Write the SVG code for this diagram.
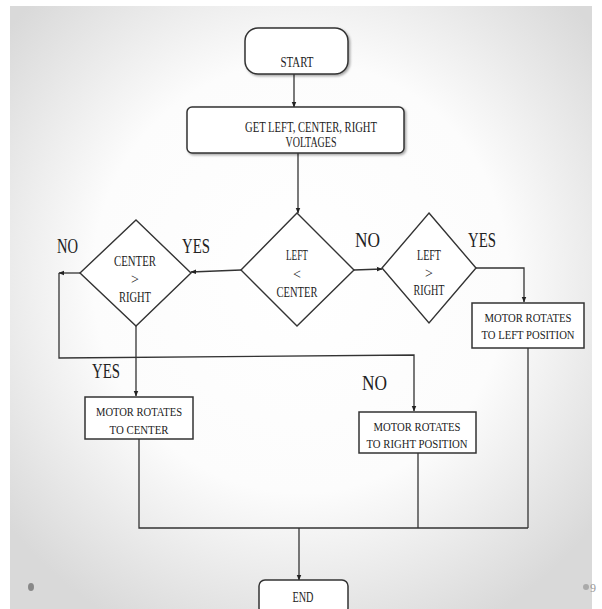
<svg xmlns="http://www.w3.org/2000/svg" width="602" height="609" viewBox="0 0 602 609">
  <defs>
    <radialGradient id="bg" cx="50%" cy="45%" r="65%">
      <stop offset="0" stop-color="#ffffff"/>
      <stop offset="0.55" stop-color="#fcfcfc"/>
      <stop offset="1" stop-color="#d9d9d9"/>
    </radialGradient>
    <marker id="arr" viewBox="0 0 10 10" refX="9" refY="5" markerWidth="6" markerHeight="6" orient="auto" markerUnits="userSpaceOnUse">
      <path d="M0,1 L10,5 L0,9 z" fill="#222"/>
    </marker>
    <filter id="sh" x="-10%" y="-10%" width="130%" height="140%">
      <feDropShadow dx="1.5" dy="1.5" stdDeviation="0.8" flood-color="#000" flood-opacity="0.35"/>
    </filter>
  </defs>
  <style>
    .box { fill: #ffffff; stroke: #333; stroke-width: 1.5; }
    .dia { fill: #ffffff; stroke: #333; stroke-width: 1.4; }
    .ln { fill: none; stroke: #333; stroke-width: 1.3; }
    .t { font-family: "Liberation Serif", "Times New Roman", serif; fill: #222; text-anchor: middle; }
    .s { font-size: 13px; }
    .d { font-size: 14px; }
    .lab { font-family: "Liberation Serif", "Times New Roman", serif; fill: #222; font-size: 21px; }
  </style>

  <rect x="0" y="0" width="602" height="609" fill="#ffffff"/>
  <rect x="10" y="6" width="582" height="603" fill="url(#bg)"/>

  <g id="connectors">
    <line class="ln" x1="294" y1="74" x2="294" y2="107" marker-end="url(#arr)"/>
    <line class="ln" x1="298" y1="153" x2="298" y2="213" marker-end="url(#arr)"/>
    <line class="ln" x1="241" y1="270" x2="191" y2="272" marker-end="url(#arr)"/>
    <line class="ln" x1="354" y1="270" x2="382" y2="269" marker-end="url(#arr)"/>
    <line class="ln" x1="80" y1="273" x2="59" y2="273" marker-end="url(#arr)"/>
    <polyline class="ln" points="59,273 59,358 414,355 414,411" marker-end="url(#arr)"/>
    <line class="ln" x1="136" y1="326" x2="136" y2="396" marker-end="url(#arr)"/>
    <polyline class="ln" points="476,268 524,268 524,302" marker-end="url(#arr)"/>
    <line class="ln" x1="528" y1="348" x2="528" y2="528"/>
    <polyline class="ln" points="139,439 139,528 528,528"/>
    <line class="ln" x1="418" y1="453" x2="418" y2="528"/>
    <line class="ln" x1="299" y1="528" x2="299" y2="580" marker-end="url(#arr)"/>
  </g>

  <g id="start">
    <rect class="box" x="245" y="28" width="103" height="46" rx="13" filter="url(#sh)"/>
    <text class="t" x="297" y="67" font-size="14" textLength="33" lengthAdjust="spacingAndGlyphs">START</text>
  </g>

  <g id="get-voltages">
    <rect class="box" x="187" y="107" width="217" height="46" rx="5" filter="url(#sh)"/>
    <text class="t" x="311" y="132" font-size="15" textLength="132" lengthAdjust="spacingAndGlyphs">GET LEFT, CENTER, RIGHT</text>
    <text class="t" x="311" y="147" font-size="15" textLength="51" lengthAdjust="spacingAndGlyphs">VOLTAGES</text>
  </g>

  <g id="left-lt-center">
    <polygon class="dia" points="297,213 354,270 297,326 241,270"/>
    <text class="t d" x="297" y="260" textLength="22" lengthAdjust="spacingAndGlyphs">LEFT</text>
    <text class="t d" x="297" y="279">&lt;</text>
    <text class="t d" x="297" y="297" textLength="41" lengthAdjust="spacingAndGlyphs">CENTER</text>
  </g>

  <g id="center-gt-right">
    <polygon class="dia" points="136,220 191,273 136,326 80,273"/>
    <text class="t d" x="135" y="266" textLength="42" lengthAdjust="spacingAndGlyphs">CENTER</text>
    <text class="t d" x="135" y="284">&gt;</text>
    <text class="t d" x="135" y="302" textLength="32" lengthAdjust="spacingAndGlyphs">RIGHT</text>
  </g>

  <g id="left-gt-right">
    <polygon class="dia" points="429,213 476,268 429,323 382,268"/>
    <text class="t d" x="429" y="260" textLength="24" lengthAdjust="spacingAndGlyphs">LEFT</text>
    <text class="t d" x="429" y="278">&gt;</text>
    <text class="t d" x="429" y="295" textLength="31" lengthAdjust="spacingAndGlyphs">RIGHT</text>
  </g>

  <g id="motor-left">
    <rect class="box" x="472" y="303" width="112" height="45"/>
    <text class="t s" x="528" y="322" textLength="87" lengthAdjust="spacingAndGlyphs">MOTOR ROTATES</text>
    <text class="t s" x="528" y="339" textLength="93" lengthAdjust="spacingAndGlyphs">TO LEFT POSITION</text>
  </g>

  <g id="motor-center">
    <rect class="box" x="85" y="397" width="108" height="42"/>
    <text class="t s" x="139" y="416" textLength="86" lengthAdjust="spacingAndGlyphs">MOTOR ROTATES</text>
    <text class="t s" x="139" y="434" textLength="59" lengthAdjust="spacingAndGlyphs">TO CENTER</text>
  </g>

  <g id="motor-right">
    <rect class="box" x="359" y="412" width="117" height="41"/>
    <text class="t s" x="417" y="431" textLength="87" lengthAdjust="spacingAndGlyphs">MOTOR ROTATES</text>
    <text class="t s" x="417" y="448" textLength="101" lengthAdjust="spacingAndGlyphs">TO RIGHT POSITION</text>
  </g>

  <g id="end">
    <rect class="box" x="259" y="580" width="89" height="34" rx="6"/>
    <text class="t" x="303" y="602" font-size="14" textLength="21" lengthAdjust="spacingAndGlyphs">END</text>
  </g>

  <g id="labels">
    <text class="lab" x="57" y="253" textLength="21" lengthAdjust="spacingAndGlyphs">NO</text>
    <text class="lab" x="182" y="253" textLength="28" lengthAdjust="spacingAndGlyphs">YES</text>
    <text class="lab" x="355" y="247" textLength="25" lengthAdjust="spacingAndGlyphs">NO</text>
    <text class="lab" x="468" y="247" textLength="28" lengthAdjust="spacingAndGlyphs">YES</text>
    <text class="lab" x="92" y="378" textLength="28" lengthAdjust="spacingAndGlyphs">YES</text>
    <text class="lab" x="362" y="390" textLength="25" lengthAdjust="spacingAndGlyphs">NO</text>
  </g>

  <g id="page-marks">
    <ellipse cx="31" cy="587" rx="3" ry="4" fill="#888"/>
    <circle cx="586" cy="587" r="3" fill="#aaa"/>
    <text x="590" y="592" font-family="Liberation Serif, serif" font-size="12" fill="#999">9</text>
  </g>
</svg>
